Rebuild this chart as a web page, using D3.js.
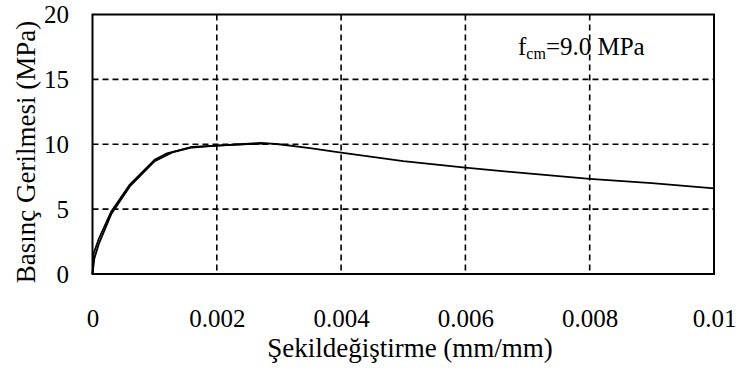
<!DOCTYPE html>
<html>
<head>
<meta charset="utf-8">
<script src="https://cdn.jsdelivr.net/npm/d3@7"></script>
<style>
  body { margin: 0; background: #fff; }
</style>
</head>
<body>
<svg id="chart" width="742" height="374" font-family="Liberation Serif"></svg>
<script>
// strain (mm/mm) vs stress (MPa)
const testStrain = [0, 0.00002, 0.0001, 0.0003, 0.0006, 0.001, 0.0012, 0.0016, 0.002, 0.0024, 0.0027, 0.003, 0.0035, 0.004, 0.005, 0.006, 0.007, 0.008, 0.009, 0.01];
const testStress = [0, 1.6, 2.7, 4.8, 6.9, 8.8, 9.3, 9.8, 9.9, 10.0, 10.1, 10.0, 9.7, 9.35, 8.7, 8.2, 7.75, 7.33, 7.0, 6.6];
const modelStrain = [0, 0.00003, 0.0001, 0.0003, 0.0006, 0.001, 0.0013, 0.0016, 0.002, 0.0024, 0.0028];
const modelStress = [0, 1.2, 2.3, 4.6, 6.75, 8.7, 9.4, 9.75, 9.9, 10.0, 10.05];
const xTicks = [0, 0.002, 0.004, 0.006, 0.008, 0.01];
const yTicks = [0, 5, 10, 15, 20];

const FONT = 'Liberation Serif';
const margin = { top: 14.5, right: 28, bottom: 100, left: 92.5 };
const width = 742 - margin.left - margin.right;
const height = 374 - margin.top - margin.bottom;

const svg = d3.select('#chart');
const g = svg.append('g').attr('transform', `translate(${margin.left},${margin.top})`);

const x = d3.scaleLinear().domain([0, 0.01]).range([0, width]);
const y = d3.scaleLinear().domain([0, 20]).range([height, 0]);

// grid
g.selectAll('.vgrid').data(xTicks.slice(1, -1)).enter().append('line')
  .attr('x1', d => x(d)).attr('x2', d => x(d))
  .attr('y1', 0).attr('y2', height)
  .attr('stroke', '#000').attr('stroke-width', 1.6).attr('stroke-dasharray', '6,4');
g.selectAll('.hgrid').data(yTicks.slice(1, -1)).enter().append('line')
  .attr('x1', 0).attr('x2', width)
  .attr('y1', d => y(d)).attr('y2', d => y(d))
  .attr('stroke', '#000').attr('stroke-width', 1.6).attr('stroke-dasharray', '6,4');

// frame
g.append('rect').attr('width', width).attr('height', height)
  .attr('fill', 'none').attr('stroke', '#000').attr('stroke-width', 2);

// text goes inside a tspan (renders in the serif face reliably)
function wrapTspan(sel) {
  sel.each(function () {
    const t = d3.select(this);
    const s = t.text();
    t.text('');
    t.append('tspan').attr('font-family', FONT).text(s);
  });
}

// axes (labels only)
const xAxis = d3.axisBottom(x).tickValues(xTicks).tickSize(0)
  .tickFormat(d => d === 0 ? '0' : String(+d.toFixed(3)));
const yAxis = d3.axisLeft(y).tickValues(yTicks).tickSize(0).tickPadding(23.5);
const gx = g.append('g').attr('transform', `translate(0,${height})`).call(xAxis);
const gy = g.append('g').call(yAxis);
[gx, gy].forEach(a => {
  a.select('.domain').remove();
  a.attr('font-family', FONT).attr('font-size', 25);
  a.selectAll('text').attr('font-family', FONT).attr('font-size', 25).attr('fill', '#000');
  wrapTspan(a.selectAll('text'));
});
gx.selectAll('text').attr('y', 53).attr('dy', 0);

// curves
const line = d3.line().x(d => x(d[0])).y(d => y(d[1]));
const testData = testStrain.map((s, i) => [s, testStress[i]]);
const modelData = modelStrain.map((s, i) => [s, modelStress[i]]);
g.append('path').datum(modelData).attr('d', line)
  .attr('fill', 'none').attr('stroke', '#000').attr('stroke-width', 1.8);
g.append('path').datum(testData).attr('d', line)
  .attr('fill', 'none').attr('stroke', '#000').attr('stroke-width', 1.8);

// annotation
const ann = svg.append('text').attr('x', 518).attr('y', 55)
  .attr('font-family', FONT).attr('font-size', 25);
ann.append('tspan').text('f');
ann.append('tspan').attr('font-size', 16).attr('dy', 4).text('cm');
ann.append('tspan').attr('dy', -4).text('=9.0 MPa');

// axis titles
svg.append('text').attr('x', 410).attr('y', 357).attr('text-anchor', 'middle')
  .attr('font-family', FONT).attr('font-size', 27)
  .append('tspan').text('Şekildeğiştirme (mm/mm)');
svg.append('text').attr('transform', 'translate(35,152) rotate(-90)')
  .attr('text-anchor', 'middle')
  .attr('font-family', FONT).attr('font-size', 27)
  .append('tspan').text('Basınç Gerilmesi (MPa)');
</script>
</body>
</html>
